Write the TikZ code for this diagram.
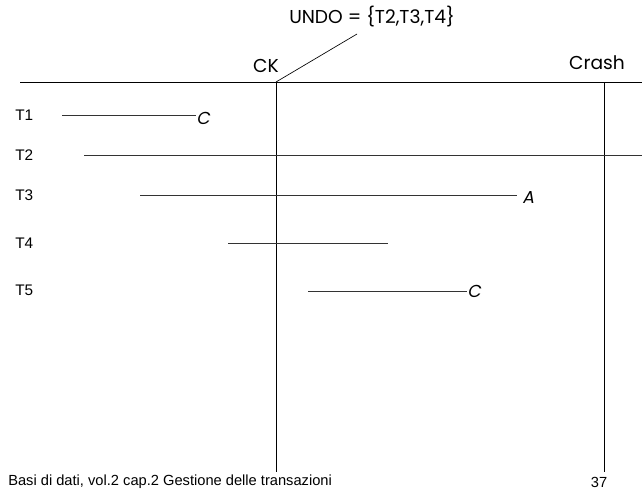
\documentclass[tikz,border=0pt]{standalone}
\usepackage{fontspec}
\setmainfont{Liberation Sans}
\newfontfamily\comicfont{Poppins}
\newfontfamily\comicslant[FakeSlant=0.2]{Poppins}
\usetikzlibrary{positioning}

\begin{document}
\begin{tikzpicture}[x=0.75pt,y=-0.75pt]
\tikzstyle{txname} = [inner sep=0pt, anchor=west, font=\fontsize{11.5}{13}\selectfont]
\tikzstyle{outcome} = [inner sep=0pt, anchor=west, font=\comicslant\fontsize{13}{14}\selectfont]
\tikzstyle{event} = [inner sep=0pt, font=\comicfont\fontsize{14}{16}\selectfont]
\tikzstyle{txline} = [draw=black!80, line width=0.6pt]
\tikzstyle{axis} = [draw=black, line width=0.7pt]

\useasboundingbox (0,0) rectangle (642,494);

% time axis, checkpoint and crash
\coordinate (axisL) at (20,82);
\coordinate (axisR) at (642,82);
\coordinate (ck) at (276,82);
\coordinate (ckend) at (276,472);
\coordinate (crash) at (604,82);
\coordinate (crashend) at (604,472);
\draw[axis] (axisL) -- (axisR);
\draw[axis] (ck) -- (ckend);
\draw[axis] (crash) -- (crashend);

\node (cklabel) [event] at (266,66) {CK};
\node (crashlabel) [event] at (597,63) {Crash};
\node (undo) [event] at (372,17) {UNDO = \{T2,T3,T4\}};
\draw[axis, line width=0.5pt] (ck) -- (357,34);

% transactions
\node (t1) [txname] at (15,115) {T1};
\node (t2) [txname] at (15,155) {T2};
\node (t3) [txname] at (15,195) {T3};
\node (t4) [txname] at (15,243) {T4};
\node (t5) [txname] at (15,290) {T5};

\node (c1) [outcome] at (196,118) {C};
\node (a3) [outcome] at (522,197) {A};
\node (c5) [outcome] at (467,291) {C};

\draw[txline] (62,115) -- (c1.west |- 0,115);
\draw[txline] (84,155) -- (642,155);
\draw[txline] (140,195) -- (517,195);
\draw[txline] (228,243) -- (388,243);
\draw[txline] (308,291) -- (c5.west |- 0,291);

% footer
\node (footer) [inner sep=0pt, anchor=west, font=\fontsize{11}{13}\selectfont] at (8,482) {Basi di dati, vol.2 cap.2 Gestione delle transazioni};
\node (page) [inner sep=0pt, font=\fontsize{11}{13}\selectfont] at (599,482) {37};
\end{tikzpicture}
\end{document}
